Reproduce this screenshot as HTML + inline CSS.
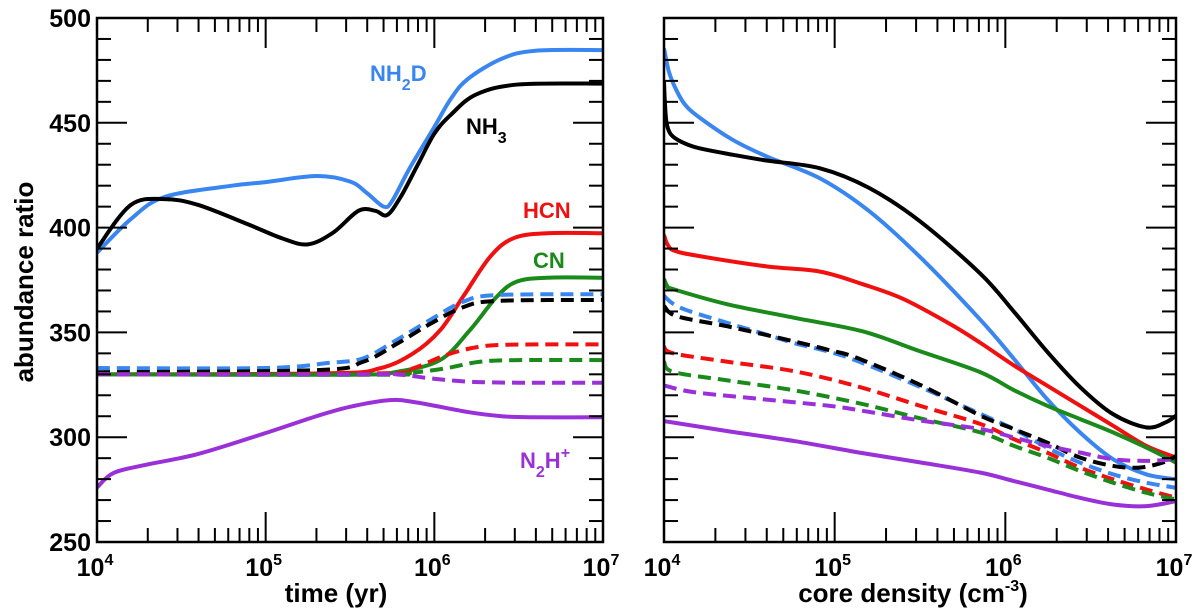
<!DOCTYPE html>
<html><head><meta charset="utf-8"><style>
html,body{margin:0;padding:0;background:#fff;}
svg{display:block;font-family:"Liberation Sans",Arial,sans-serif;font-weight:bold;}
</style></head><body>
<svg id="chart" width="1200" height="612" viewBox="0 0 1200 612" xmlns="http://www.w3.org/2000/svg">
<g id="left"></g>
<g id="right"></g>
</svg>
<script>
const NS="http://www.w3.org/2000/svg";
const yTicks=[250,300,350,400,450,500];
const xTickExps=[4,5,6,7];
const seriesNames=["nh2d","nh3","hcn","cn","nh2d-dashed","nh3-dashed","hcn-dashed","cn-dashed","n2hp-dashed","n2hp"];
const seriesColors=["#3a86f0","#000000","#f01010","#1a8a1a","#3a86f0","#000000","#f01010","#1a8a1a","#9a30d8","#9a30d8"];
const seriesDashed=[false,false,false,false,true,true,true,true,true,false];
// left panel: log10(time) and ratio
const L_nh2d_x=[4.0,4.2,4.4,4.8,5.0,5.3,5.5,5.6,5.7,5.75,5.85,6.0,6.1,6.2,6.4,6.6,7.0];
const L_nh2d_y=[388,404,414.6,420,421.7,424.6,422,416.5,410,412.7,427.8,448,461.7,471,480.6,484.4,484.7];
const L_nh3_x=[4.0,4.2,4.4,4.6,4.9,5.1,5.25,5.4,5.55,5.65,5.72,5.8,5.9,6.0,6.1,6.25,6.5,7.0];
const L_nh3_y=[390,410.8,413.6,410.8,401.4,394.8,392,397.6,408,408,406,414.6,429.7,444.8,454,463.6,468.3,468.7];
const L_hcn_x=[4.0,5.38,5.678,5.875,6.034,6.17,6.33,6.468,6.666,7.0];
const L_hcn_y=[330,330.5,332.9,340,351,367,386,394.9,397.3,397.3];
const L_cn_x=[4.0,5.5,5.777,6.034,6.21,6.37,6.488,6.666,7.0];
const L_cn_y=[330,329.8,331.2,336.8,351,367,374.2,376.1,376.1];
const L_nh2dd_x=[4.0,5.0,5.38,5.578,5.777,5.974,6.17,6.37,7.0];
const L_nh2dd_y=[333,333,335.5,337.6,346.4,355.9,364.6,367.8,368.2];
const L_nh3d_x=[4.0,5.3,5.578,5.777,5.974,6.17,6.37,7.0];
const L_nh3d_y=[331,332,336,344.5,354,362,365,365.5];
const L_hcnd_x=[4.0,5.7,5.875,6.07,6.27,6.5,7.0];
const L_hcnd_y=[330,330.5,332.9,339.2,343.2,344.2,344.3];
const L_cnd_x=[4.0,5.7,5.875,6.07,6.27,6.5,7.0];
const L_cnd_y=[330,329.8,330.8,332.9,336,336.8,336.8];
const L_n2hd_x=[4.0,5.6,5.777,5.974,6.2,6.5,7.0];
const L_n2hd_y=[330,330,330,328.1,326.5,326,326];
const L_n2h_x=[4.0,4.1,4.3,4.6,5.0,5.3,5.5,5.737,5.9,6.2,6.4,6.567,7.0];
const L_n2h_y=[276,283,287,292,302,310,314.5,317.7,316.5,312,310,309.5,309.5];
// right panel: log10(density) and ratio
const R_nh2d_x=[4.0,4.03,4.07,4.12,4.2,4.4,4.6,4.914,5.2,5.5,5.854,6.049,6.243,6.437,6.631,6.825,7.0];
const R_nh2d_y=[485.5,474,466,459,453,442,434,423.5,408,386,356,337.5,318.3,302.3,289.5,282.3,279.9];
const R_nh3_x=[4.0,4.005,4.015,4.04,4.1,4.2,4.4,4.6,4.914,5.2,5.5,5.854,6.049,6.243,6.437,6.631,6.825,6.94,7.0];
const R_nh3_y=[469.7,460,450,444.5,441,438,434.8,432,428.3,419,403,378,360,341,324,311,304.7,307.1,310.3];
const R_hcn_x=[4.0,4.02,4.06,4.2,4.6,4.914,5.164,5.4,5.676,5.854,6.049,6.243,6.437,6.631,6.825,7.0];
const R_hcn_y=[396.5,392,389,386.5,381.5,379,373,366,354,345,334.3,324.7,315.1,305.5,295.9,290.3];
const R_cn_x=[4.0,4.02,4.055,4.372,4.768,5.164,5.5,5.854,6.049,6.243,6.437,6.631,6.825,7.0];
const R_cn_y=[375.5,372,370.6,363.4,356.9,350.5,341,331,322.5,315.1,308.7,302.3,295.1,287.9];
const R_nh2dd_x=[4.0,4.095,4.372,4.57,4.768,4.966,5.145,5.5,5.854,6.049,6.243,6.437,6.631,6.825,7.0];
const R_nh2dd_y=[367.4,361.8,354.5,349.7,344.8,340.8,336,324,311.1,303.9,295.1,287.9,282.3,278.3,275.9];
const R_nh3d_x=[4.0,4.075,4.372,4.768,4.966,5.125,5.5,5.854,6.049,6.243,6.437,6.631,6.786,6.922,7.0];
const R_nh3d_y=[362.6,357.7,352.9,345.6,341.6,338,325,310.3,303.9,297.5,290.3,286.3,285.5,287.9,291];
const R_hcnd_x=[4.0,4.055,4.372,4.768,5.145,5.5,5.854,6.049,6.243,6.437,6.631,6.825,7.0];
const R_hcnd_y=[343.2,340,336,331.4,324,315,306.3,299.1,292.7,285.5,279.9,275.1,271.1];
const R_cnd_x=[4.0,4.055,4.372,4.768,5.164,5.5,5.854,6.049,6.243,6.437,6.631,6.825,7.0];
const R_cnd_y=[336,331.1,327.1,322.3,315.8,309,302.3,295.9,290.3,283.9,278.3,273.5,270.3];
const R_n2hd_x=[4.0,4.174,4.57,4.966,5.164,5.5,5.854,6.049,6.243,6.437,6.631,6.825,7.0];
const R_n2hd_y=[324.7,321.5,318.2,315,312.6,308,303.9,299.9,295.9,292.7,289.5,288.7,289.5];
const R_n2h_x=[4.0,4.372,4.768,5.164,5.5,5.854,6.049,6.243,6.437,6.631,6.825,7.0];
const R_n2h_y=[307.7,302.9,298.1,292.4,288,283.1,279.1,275.1,271.1,267.9,267.1,269.5];

const leftXs=[L_nh2d_x,L_nh3_x,L_hcn_x,L_cn_x,L_nh2dd_x,L_nh3d_x,L_hcnd_x,L_cnd_x,L_n2hd_x,L_n2h_x];
const leftYs=[L_nh2d_y,L_nh3_y,L_hcn_y,L_cn_y,L_nh2dd_y,L_nh3d_y,L_hcnd_y,L_cnd_y,L_n2hd_y,L_n2h_y];
const rightXs=[R_nh2d_x,R_nh3_x,R_hcn_x,R_cn_x,R_nh2dd_x,R_nh3d_x,R_hcnd_x,R_cnd_x,R_n2hd_x,R_n2h_x];
const rightYs=[R_nh2d_y,R_nh3_y,R_hcn_y,R_cn_y,R_nh2dd_y,R_nh3d_y,R_hcnd_y,R_cnd_y,R_n2hd_y,R_n2h_y];

function el(tag,attrs,parent){const e=document.createElementNS(NS,tag);for(const k in attrs)e.setAttribute(k,attrs[k]);parent.appendChild(e);return e;}

function panel(g,x0,x1,y0,y1,xsArr,ysArr,showY,prefix){
  const sx=v=>x0+(v-4)/3*(x1-x0);
  const sy=v=>y1-(v-250)/250*(y1-y0);
  const cp=el('clipPath',{id:prefix+'clip'},g);
  el('rect',{x:x0,y:y0,width:x1-x0,height:y1-y0},cp);
  const sg=el('g',{'clip-path':'url(#'+prefix+'clip)'},g);
  
  
  for(let i=0;i<xsArr.length;i++){
    const pts=xsArr[i].map((x,j)=>[sx(x),sy(ysArr[i][j])]);
    let d='M'+pts[0][0]+','+pts[0][1];
    for(let j=0;j<pts.length-1;j++){
      const p0=pts[Math.max(j-1,0)],p1=pts[j],p2=pts[j+1],p3=pts[Math.min(j+2,pts.length-1)];
      const t=6;
      const c1=[p1[0]+(p2[0]-p0[0])/t,p1[1]+(p2[1]-p0[1])/t];
      const c2=[p2[0]-(p3[0]-p1[0])/t,p2[1]-(p3[1]-p1[1])/t];
      d+=' C'+c1[0]+','+c1[1]+' '+c2[0]+','+c2[1]+' '+p2[0]+','+p2[1];
    }
    const p=el('path',{d:d,fill:'none',stroke:seriesColors[i],'stroke-width':4,'stroke-linejoin':'round'},sg);
    if(seriesDashed[i])p.setAttribute('stroke-dasharray','13 7');
    
    
  }
  const fr=el('rect',{x:x0,y:y0,width:x1-x0,height:y1-y0,fill:'none',stroke:'#000','stroke-width':2.5},g);
  
  
  for(let v=250;v<=500;v+=10){
    const major=(v%50===0);const len=major?30:14;const y=sy(v);
    el('line',{x1:x0,x2:x0+len,y1:y,y2:y,stroke:'#000','stroke-width':2},g);
    el('line',{x1:x1,x2:x1-len,y1:y,y2:y,stroke:'#000','stroke-width':2},g);
  }
  if(showY){
    yTicks.forEach(v=>{
      const t=el('text',{x:x0-6,y:sy(v)+9,'text-anchor':'end','font-size':25},g);
      t.textContent=v;
      
      
    });
  }
  for(let e=4;e<7;e++)for(let m=1;m<10;m++){
    const x=sx(e+Math.log10(m));const len=(m===1)?30:14;
    el('line',{x1:x,x2:x,y1:y1,y2:y1-len,stroke:'#000','stroke-width':2},g);
    el('line',{x1:x,x2:x,y1:y0,y2:y0+len,stroke:'#000','stroke-width':2},g);
  }
  xTickExps.forEach(e=>{
    const t=el('text',{x:sx(e)-2,y:y1+34,'text-anchor':'middle','font-size':25},g);
    t.textContent='10';
    const s=el('tspan',{dy:-11,'font-size':16},t);s.textContent=e;
    
    
  });
}

const L=document.getElementById('left'),R=document.getElementById('right');
panel(L,97,603,18,542,leftXs,leftYs,true,'left');
panel(R,664,1176,18,542,rightXs,rightYs,false,'right');

function txt(parent,x,y,str,attrs,name){const t=el('text',Object.assign({x:x,y:y},attrs),parent);t.innerHTML=str;return t;}
const svg=document.getElementById('chart');
txt(svg,0,0,'abundance ratio',{'font-size':26,transform:'translate(33,282) rotate(-90)','text-anchor':'middle'},'y-axis-title');
txt(svg,336,602,'time (yr)',{'font-size':26,'text-anchor':'middle'},'left-x-axis-title');
txt(svg,913,602,'core density (cm<tspan dy="-11" font-size="16">-3</tspan><tspan dy="11">)</tspan>',{'font-size':26,'text-anchor':'middle'},'right-x-axis-title');
txt(svg,370,81,'NH<tspan dy="9" font-size="16">2</tspan><tspan dy="-9">D</tspan>',{'font-size':22,fill:'#3a86f0'},'label-nh2d');
txt(svg,466,134,'NH<tspan dy="9" font-size="16">3</tspan>',{'font-size':22,fill:'#000'},'label-nh3');
txt(svg,523,218,'HCN',{'font-size':22,fill:'#f01010'},'label-hcn');
txt(svg,533,268,'CN',{'font-size':22,fill:'#1a8a1a'},'label-cn');
txt(svg,520,468,'N<tspan dy="9" font-size="16">2</tspan><tspan dy="-9">H</tspan><tspan dy="-10" font-size="16">+</tspan>',{'font-size':22,fill:'#9a30d8'},'label-n2hp');
</script>
</body></html>
